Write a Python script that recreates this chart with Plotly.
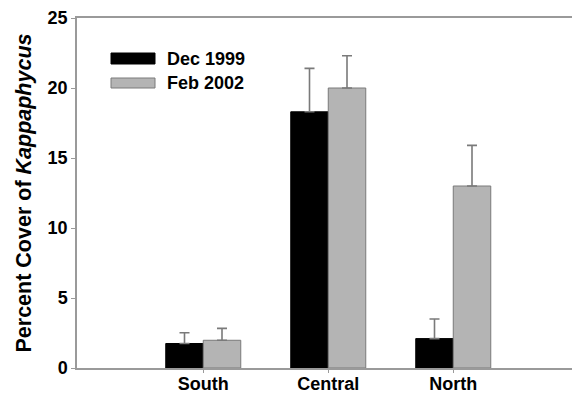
import plotly.graph_objects as go

categories = ["South", "Central", "North"]
dec1999 = [1.75, 18.3, 2.1]
dec1999_err = [0.77, 3.1, 1.4]
feb2002 = [1.98, 20.0, 13.0]
feb2002_err = [0.85, 2.3, 2.9]
series_names = ["Dec 1999", "Feb 2002"]
y_ticks = [0, 5, 10, 15, 20, 25]

W, H = 573, 394
L, R, T, B = 77, 1, 18, 26
FONT = "Liberation Sans, Arial, sans-serif"
AX = "#9a9a9a"
ERR = "#7a7a7a"
GRAY = "#b4b4b4"

fig = go.Figure()
fig.add_trace(go.Bar(
    x=categories, y=dec1999, name=series_names[0],
    marker=dict(color="black", line=dict(color="black", width=1)),
    error_y=dict(type="data", array=dec1999_err, arrayminus=[0]*3, symmetric=False,
                 color=ERR, thickness=1.6, width=5),
    showlegend=False,
))
fig.add_trace(go.Bar(
    x=categories, y=feb2002, name=series_names[1],
    marker=dict(color=GRAY, line=dict(color="#7a7a7a", width=1)),
    error_y=dict(type="data", array=feb2002_err, arrayminus=[0]*3, symmetric=False,
                 color=ERR, thickness=1.6, width=5),
    showlegend=False,
))

pw = W - L - R
ph = H - T - B
def px(x):
    return (x - L) / pw
def py(y):
    return (H - B - y) / ph

shapes = []
annotations = []
swatches = [("black", "black", 53, 64), (GRAY, "#7a7a7a", 78, 88)]
for (fill, line, y0, y1), name in zip(swatches, series_names):
    shapes.append(dict(type="rect", xref="paper", yref="paper",
                       x0=px(111), x1=px(155), y0=py(y1), y1=py(y0),
                       fillcolor=fill, line=dict(color=line, width=1)))
    annotations.append(dict(xref="paper", yref="paper", x=px(165), y=py((y0 + y1) / 2),
                            text="<b>%s</b>" % name, showarrow=False,
                            xanchor="left", yanchor="middle",
                            font=dict(family=FONT, size=18, color="black")))

fig.update_layout(
    width=W, height=H,
    margin=dict(l=L, r=R, t=T, b=B, pad=0, autoexpand=False),
    paper_bgcolor="white", plot_bgcolor="white",
    barmode="group", bargap=0.4, bargroupgap=0,
    font=dict(family=FONT, size=18, color="black"),
    shapes=shapes, annotations=annotations,
    xaxis=dict(
        type="category", range=[-1.01, 2.95], automargin=False,
        showline=True, linecolor=AX, linewidth=1.5, mirror=True,
        ticks="outside", ticklen=3, tickcolor=AX, tickwidth=1,
        ticklabelstandoff=-4,
        showgrid=False, zeroline=False,
        tickfont=dict(family=FONT, size=18, color="black", weight="bold"),
    ),
    yaxis=dict(
        range=[0, 25], tickvals=y_ticks, automargin=False,
        showline=True, linecolor=AX, linewidth=1.5,
        ticks="outside", ticklen=4, tickcolor=AX, tickwidth=1,
        showgrid=False, zeroline=False,
        tickfont=dict(family=FONT, size=18, color="black", weight="bold"),
        title=dict(text="<b>Percent Cover of <i>Kappaphycus</i></b>",
                   font=dict(family=FONT, size=21.5, color="black"), standoff=10),
    ),
)

fig.write_html("out.html", config={"displayModeBar": False},
               post_script="document.body.style.margin='0';document.body.style.overflow='hidden';")
